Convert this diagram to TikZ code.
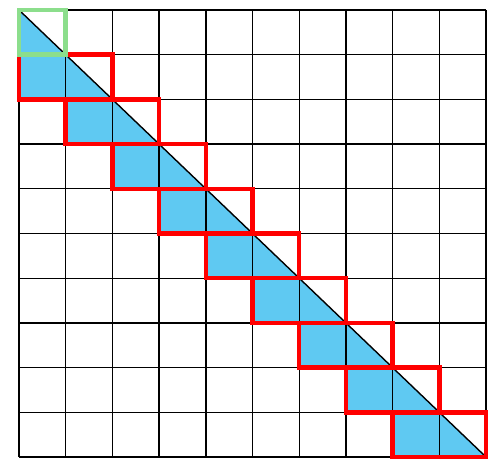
\documentclass[tikz,border=0pt]{standalone}
\definecolor{cellblue}{RGB}{95,201,242}
\definecolor{boxgreen}{RGB}{140,222,140}
\definecolor{boxred}{RGB}{255,0,0}
\tikzset{
  gridline/.style={black, line width=1.4pt},
  bluefill/.style={fill=cellblue, draw=none},
  redbox/.style={draw=boxred, line width=4.5pt},
  greenbox/.style={draw=boxgreen, line width=4.5pt},
}
\begin{document}
\begin{tikzpicture}[x=46.7pt,y=-44.7pt]
\useasboundingbox (-0.4069,-0.2237) rectangle (10.2355,10.2237);
% blue fills
\foreach \i in {0,...,9}{
  \fill[bluefill] (\i,\i) -- (\i,\i+1) -- (\i+1,\i+1) -- cycle;
}
\foreach \i in {1,...,9}{
  \fill[bluefill] (\i-1,\i) rectangle (\i,\i+1);
}
% grid
\foreach \k in {0,...,10}{
  \draw[gridline] (\k,0) -- (\k,10);
  \draw[gridline] (0,\k) -- (10,\k);
}
\draw[gridline] (0,0) -- (10,10);
% boxes
\foreach \i in {1,...,9}{
  \draw[redbox] (\i-1,\i) rectangle (\i+1,\i+1);
}
\draw[greenbox] (0,0) rectangle (1,1);
\end{tikzpicture}
\end{document}
